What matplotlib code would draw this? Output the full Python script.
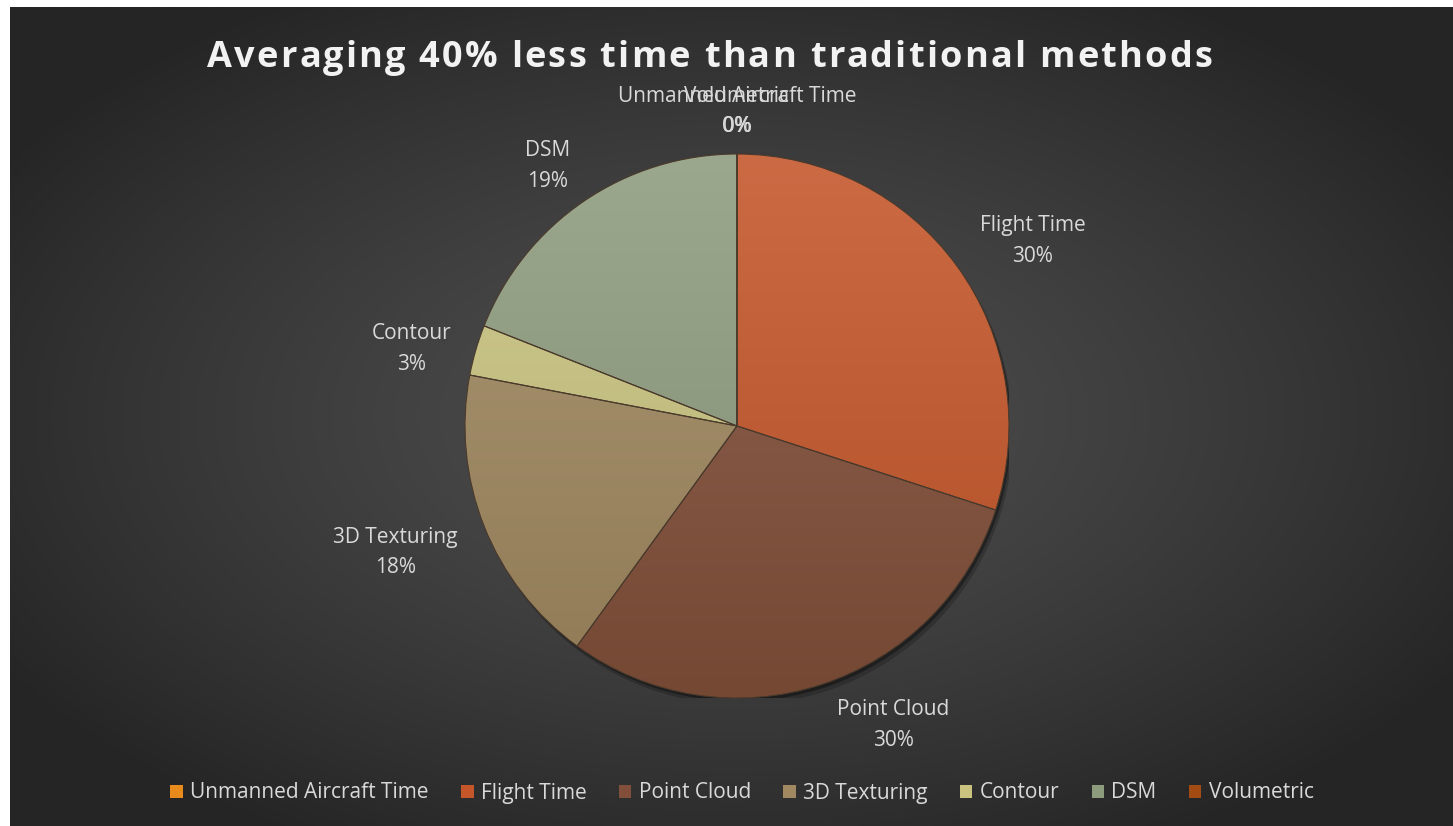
import numpy as np
import matplotlib
matplotlib.use('Agg')
import matplotlib.pyplot as plt
from matplotlib.colors import LinearSegmentedColormap, to_rgb
from matplotlib.patches import Patch, Circle

# data
names = ['Unmanned Aircraft Time', 'Flight Time', 'Point Cloud', '3D Texturing',
         'Contour', 'DSM', 'Volumetric']
values = [0, 30, 30, 18, 3, 19, 0]
colors = ['#E98A1C', '#C4562A', '#82503A', '#A08860', '#C9C37F', '#8E9C7E', '#A24C14']
title = 'Averaging 40% less time than traditional methods'

W, H = 1453, 826
R_PX = 272  # pie radius in pixels
fig = plt.figure(figsize=(W / 100, H / 100), dpi=100)
fig.patch.set_facecolor('white')
renderer = fig.canvas.get_renderer()

# dark radial background
bg = fig.add_axes([10 / W, 0, 1 - 10 / W, 1 - 7 / H])
bg.axis('off')
yy, xx = np.mgrid[-1:1:300j, -1:1:500j]
r = np.clip(np.sqrt(xx ** 2 + yy ** 2) / 1.2, 0, 1)
shade = 0x4e / 255 - (0x4e - 0x25) / 255 * r ** 1.3
bg.imshow(np.dstack([shade] * 3), extent=(0, 1, 0, 1), aspect='auto', origin='lower')
bg.set_xlim(0, 1)
bg.set_ylim(0, 1)

# pie
pax = fig.add_axes([(737 - R_PX) / W, (H - 426 - R_PX) / H, 2 * R_PX / W, 2 * R_PX / H])
pax.add_patch(Circle((0.015, -0.025), 1.0, color='black', alpha=0.2, zorder=0.5, lw=0))
pax.add_patch(Circle((0.008, -0.012), 1.0, color='black', alpha=0.35, zorder=0.6, lw=0))
wedges, _ = pax.pie(values, colors=colors, startangle=90, counterclock=False,
                    radius=1, wedgeprops=dict(edgecolor='#4a3a2c', linewidth=0.8))
grad = np.linspace(0, 1, 256).reshape(-1, 1)
for w, c in zip(wedges, colors):
    base = np.array(to_rgb(c))
    light = base + (1 - base) * 0.12
    dark = base * 0.9
    cmap = LinearSegmentedColormap.from_list('g', [dark, light])
    im = pax.imshow(grad, extent=(-1, 1, -1, 1), cmap=cmap, origin='lower',
                    aspect='auto', zorder=1.2)
    im.set_clip_path(w)
    w.set_facecolor('none')
    w.set_zorder(2)
pax.set_xlim(-1, 1)
pax.set_ylim(-1, 1)
pax.axis('off')

# data labels, placed outside the end of each slice
total = sum(values)
cum = 0
for n, v in zip(names, values):
    mid = np.deg2rad(90 - 360 * (cum + v / 2) / total)
    cum += v
    c, s = np.cos(mid), np.sin(mid)
    ax_, ay_ = 1.08 * c, 1.08 * s
    t = pax.text(ax_, ay_, f'{n}\n{round(100 * v / total)}%', ha='center', va='center',
                 fontsize=15, color='#d9d9d9', family='Open Sans', linespacing=1.6,
                 clip_on=False)
    bb = t.get_window_extent(renderer)
    hw, hh = bb.width / 2 / R_PX, bb.height / 2 / R_PX
    dy = 0.8 * hh * s - (0.04 if c < -0.8 else 0)
    dx = 1.1 * hw * np.clip(3 * c, -1, 1) + (0.03 if s < -0.8 else 0)
    t.set_position((ax_ + dx, ay_ + dy))

# title, letter-spaced to the reference width
tkw = dict(fontsize=26, fontweight='bold', family='Open Sans', color='#f2f2f2')
def text_w(txt):
    t = fig.text(0, 0, txt, **tkw)
    wdt = t.get_window_extent(renderer).width
    t.remove()
    return wdt
bar = text_w('|')
full = text_w(title)
spacing = (1005 - full) / (len(title) - 1)
x0 = 709.5 - 1005 / 2
offsets = [text_w(title[:i] + '|') - bar for i in range(len(title))]
for i, ch in enumerate(title):
    fig.text((x0 + offsets[i] + spacing * i) / W, 1 - 67 / H, ch,
             ha='left', va='baseline', **tkw)

handles = [Patch(facecolor=c, edgecolor='none') for c in colors]
fig.legend(handles, names, loc='center', bbox_to_anchor=(742 / W, 1 - 793 / H), ncol=7,
           frameon=False, handlelength=0.6, handleheight=0.6, handletextpad=0.35,
           columnspacing=1.55, prop={'family': 'Open Sans', 'size': 15},
           labelcolor='#d9d9d9')

fig.savefig('out.png', dpi=100)
